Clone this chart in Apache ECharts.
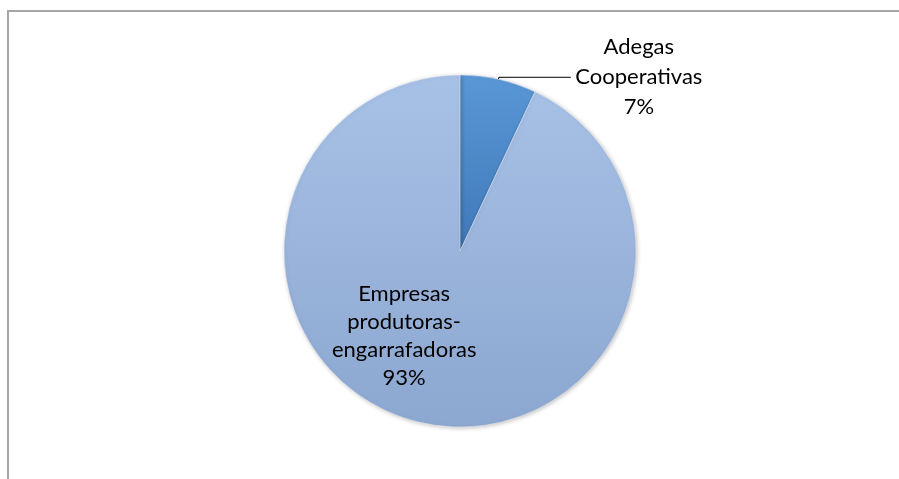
<!DOCTYPE html>
<html>
<head>
<meta charset="utf-8">
<script src="https://cdn.jsdelivr.net/npm/echarts@6/dist/echarts.min.js"></script>
<style>html,body{margin:0;padding:0;background:#fff;}#c{width:899px;height:479px;}</style>
</head>
<body>
<div id="c"></div>
<script>
var categories = ['Adegas Cooperativas', 'Empresas produtoras-engarrafadoras'];
var labelLines = [['Adegas', 'Cooperativas'], ['Empresas', 'produtoras-', 'engarrafadoras']];
var values = [7, 93];

var chart = echarts.init(document.getElementById('c'));
var font = 'Lato, "Open Sans", sans-serif';

var colors = [
  new echarts.graphic.LinearGradient(0, 0, 0, 1, [{offset:0,color:'#5a97d6'},{offset:1,color:'#3f78b8'}]),
  new echarts.graphic.LinearGradient(0, 0, 0, 1, [{offset:0,color:'#a8c1e6'},{offset:1,color:'#8ca7d0'}])
];

var data = categories.map(function (c, i) {
  var d = { name: c, value: values[i], itemStyle: { color: colors[i] } };
  if (i === 0) {
    d.label = {
      position: 'outside',
      distance: 2,
      formatter: function (p) {
        return labelLines[0].map(function (t) { return '{a|' + t + '}'; }).join('\n') + '\n{a|' + Math.round(p.percent) + '%}';
      },
      rich: { a: { width: 126, align: 'center', fontSize: 22, lineHeight: 30, fontFamily: font, color: '#000' } }
    };
    d.labelLine = { show: true, length: 2, length2: 72, lineStyle: { color: '#000', width: 1 } };
  } else {
    d.label = {
      position: 'inside',
      offset: [-36, -4],
      formatter: function (p) {
        return labelLines[1].join('\n') + '\n' + Math.round(p.percent) + '%';
      },
      fontSize: 22, lineHeight: 28, fontFamily: font, color: '#000', align: 'center'
    };
    d.labelLine = { show: false };
  }
  return d;
});

chart.setOption({
  animation: false,
  backgroundColor: '#fff',
  graphic: [
    { type: 'line', shape: { x1: 8, y1: 11, x2: 8, y2: 600 }, style: { stroke: '#a6a6a6', lineWidth: 2 }, z: -1 },
    { type: 'line', shape: { x1: 7, y1: 11, x2: 1100, y2: 11 }, style: { stroke: '#a6a6a6', lineWidth: 2 }, z: -1 }
  ],
  series: [{
    type: 'pie',
    center: [460, 251],
    radius: 176,
    startAngle: 90,
    clockwise: true,
    avoidLabelOverlap: false,
    itemStyle: { borderColor: 'rgba(255,255,255,0.35)', borderWidth: 1, shadowBlur: 4, shadowColor: 'rgba(0,0,0,0.25)', shadowOffsetX: 1, shadowOffsetY: 1 },
    emphasis: { disabled: true },
    data: data
  }]
});
</script>
</body>
</html>
